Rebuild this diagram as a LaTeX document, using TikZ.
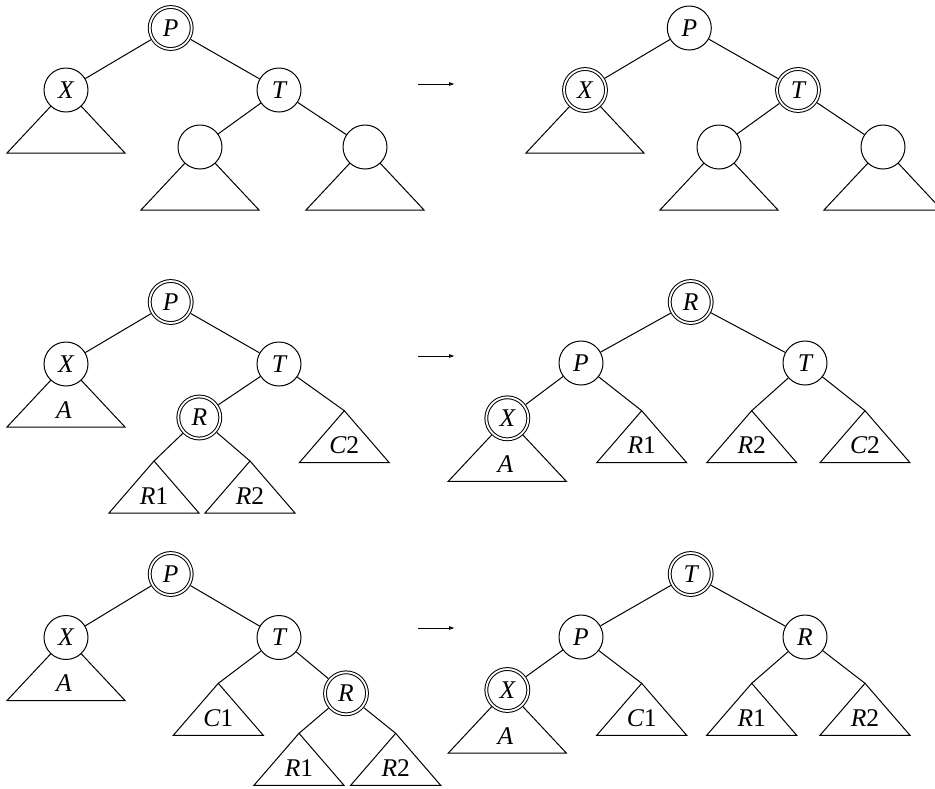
\documentclass[tikz,border=0pt]{standalone}
\usepackage{fontspec}
\setmainfont{Liberation Serif}
\usetikzlibrary{backgrounds,arrows.meta}
\newcommand\bigtri[2]{\draw[ln] (#1.center) -- ++(-59,63) -- ++(118,0) -- cycle;
  \path (#1.center) ++(-2,54) node[lbl] (#1lbl) {#2};}
\newcommand\smalltri[2]{\draw[ln] (#1) -- ++(-45,52) -- ++(90,0) -- cycle;
  \path (#1) ++(0,43) node[lbl] (#1lbl) {#2};}
\begin{document}
\begin{tikzpicture}[x=1pt,y=-1pt,line width=1pt,
  nd/.style={circle,draw,fill=white,minimum size=44pt,inner sep=0pt,line width=1pt,
    font=\fontsize{25.5}{25.5}\selectfont\itshape},
  dnd/.style={nd,minimum size=42pt,double,double distance=1.8pt,outer sep=2pt},
  lbl/.style={anchor=base,inner sep=0pt,font=\fontsize{25.5}{25.5}\selectfont},
  ln/.style={line width=1pt},
  arr/.style={-{Latex[length=6pt,width=4pt]},line width=0.9pt}]
\useasboundingbox (0,0) rectangle (935,788);

% ---------- Row 1 left
\node[dnd] (aP) at (170.7,28) {P};
\node[nd] (aX) at (66,90) {X};
\node[nd] (aT) at (279,90) {T};
\node[nd] (aE1) at (200,147) {};
\node[nd] (aE2) at (365,147) {};
% ---------- Row 1 right
\node[nd] (bP) at (689.3,28) {P};
\node[dnd] (bX) at (585,90) {X};
\node[dnd] (bT) at (798,90) {T};
\node[nd] (bE1) at (719,147) {};
\node[nd] (bE2) at (883,147) {};
% ---------- Row 2 left
\node[dnd] (cP) at (170.7,302) {P};
\node[nd] (cX) at (66,364) {X};
\node[nd] (cT) at (279,364) {T};
\node[dnd] (cR) at (199.3,417.5) {R};
\coordinate (cC2) at (344.3,410.7);
\coordinate (cR1) at (154,461);
\coordinate (cR2) at (250,461);
% ---------- Row 2 right
\node[dnd] (dR) at (690.7,302) {R};
\node[nd] (dP) at (581,363) {P};
\node[nd] (dT) at (805,363) {T};
\node[dnd] (dX) at (507.3,418.3) {X};
\coordinate (dR1) at (641.7,410.7);
\coordinate (dR2) at (751.7,410.7);
\coordinate (dC2) at (865,410.7);
% ---------- Row 3 left
\node[dnd] (eP) at (170.7,574) {P};
\node[nd] (eX) at (66,637.5) {X};
\node[nd] (eT) at (279,637.5) {T};
\node[dnd] (eR) at (346,693.3) {R};
\coordinate (eC1) at (218.3,683.3);
\coordinate (eR1) at (299,733.3);
\coordinate (eR2) at (395.7,733.3);
% ---------- Row 3 right
\node[dnd] (fT) at (690.7,574) {T};
\node[nd] (fP) at (581,637) {P};
\node[nd] (fR) at (805,637) {R};
\node[dnd] (fX) at (507.3,690) {X};
\coordinate (fC1) at (641.7,683.3);
\coordinate (fR1) at (751.7,683.3);
\coordinate (fR2) at (865,683.3);
% ---------- arrows
\coordinate (ar1s) at (418,84);  \coordinate (ar1e) at (455,84);
\coordinate (ar2s) at (418,356); \coordinate (ar2e) at (455,356);
\coordinate (ar3s) at (418,628); \coordinate (ar3e) at (455,628);
\draw[arr] (ar1s) -- (ar1e);
\draw[arr] (ar2s) -- (ar2e);
\draw[arr] (ar3s) -- (ar3e);

\begin{scope}[on background layer]
  % row 1
  \draw[ln] (aP) -- (aX); \draw[ln] (aP) -- (aT);
  \draw[ln] (aT) -- (aE1); \draw[ln] (aT) -- (aE2);
  \bigtri{aX}{}\bigtri{aE1}{}\bigtri{aE2}{}
  \draw[ln] (bP) -- (bX); \draw[ln] (bP) -- (bT);
  \draw[ln] (bT) -- (bE1); \draw[ln] (bT) -- (bE2);
  \bigtri{bX}{}\bigtri{bE1}{}\bigtri{bE2}{}
  % row 2
  \draw[ln] (cP) -- (cX); \draw[ln] (cP) -- (cT);
  \draw[ln] (cT) -- (cR); \draw[ln] (cT) -- (cC2);
  \draw[ln] (cR) -- (cR1); \draw[ln] (cR) -- (cR2);
  \bigtri{cX}{\itshape A}
  \smalltri{cC2}{\itshape C\upshape 2}
  \smalltri{cR1}{\itshape R\upshape 1}
  \smalltri{cR2}{\itshape R\upshape 2}
  \draw[ln] (dR) -- (dP); \draw[ln] (dR) -- (dT);
  \draw[ln] (dP) -- (dX); \draw[ln] (dP) -- (dR1);
  \draw[ln] (dT) -- (dR2); \draw[ln] (dT) -- (dC2);
  \bigtri{dX}{\itshape A}
  \smalltri{dR1}{\itshape R\upshape 1}
  \smalltri{dR2}{\itshape R\upshape 2}
  \smalltri{dC2}{\itshape C\upshape 2}
  % row 3
  \draw[ln] (eP) -- (eX); \draw[ln] (eP) -- (eT);
  \draw[ln] (eT) -- (eC1); \draw[ln] (eT) -- (eR);
  \draw[ln] (eR) -- (eR1); \draw[ln] (eR) -- (eR2);
  \bigtri{eX}{\itshape A}
  \smalltri{eC1}{\itshape C\upshape 1}
  \smalltri{eR1}{\itshape R\upshape 1}
  \smalltri{eR2}{\itshape R\upshape 2}
  \draw[ln] (fT) -- (fP); \draw[ln] (fT) -- (fR);
  \draw[ln] (fP) -- (fX); \draw[ln] (fP) -- (fC1);
  \draw[ln] (fR) -- (fR1); \draw[ln] (fR) -- (fR2);
  \bigtri{fX}{\itshape A}
  \smalltri{fC1}{\itshape C\upshape 1}
  \smalltri{fR1}{\itshape R\upshape 1}
  \smalltri{fR2}{\itshape R\upshape 2}
\end{scope}
\end{tikzpicture}
\end{document}
